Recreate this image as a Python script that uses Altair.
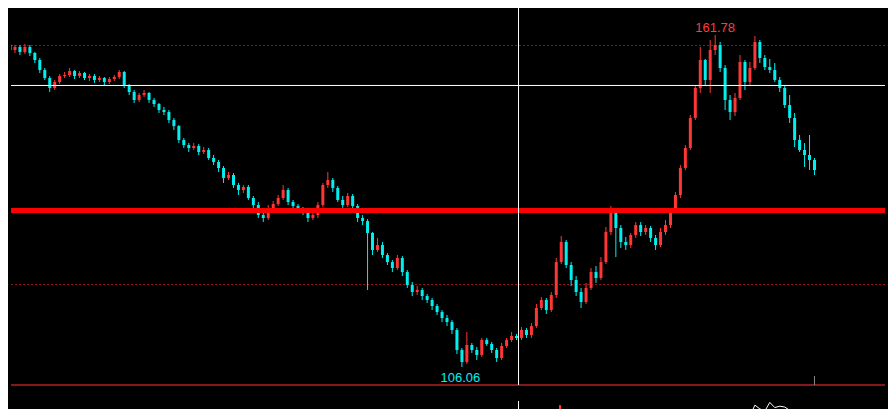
import altair as alt
import pandas as pd

# ---- price data (OHLC) ----
closes = [
    160.10, 159.26, 159.77, 158.92, 159.77, 158.76, 157.58, 155.90, 154.57, 152.89,
    153.89, 154.90, 155.07, 155.73, 154.90, 155.40, 154.57, 154.90, 154.23, 154.57,
    153.89, 154.40, 154.73, 155.57, 153.22, 152.21, 150.87, 151.71, 152.05, 150.87,
    150.20, 149.19, 148.85, 147.51, 146.50, 144.16, 143.32, 142.82, 143.15, 142.14,
    142.48, 141.14, 140.46, 139.46, 137.79, 138.29, 136.61, 135.77, 136.28, 134.43,
    133.25, 131.57, 131.07, 132.75, 133.42, 134.43, 135.77, 133.75, 133.08, 132.41,
    132.07, 131.07, 131.57, 133.25, 136.61, 137.45, 136.11, 134.09, 133.25, 134.76,
    133.08, 131.07, 130.56, 128.56, 125.70, 126.54, 124.86, 123.68, 122.68, 124.36,
    122.00, 119.83, 118.65, 118.99, 117.98, 117.31, 116.30, 115.29, 114.29, 113.61,
    112.28, 108.92, 106.90, 109.76, 108.92, 108.08, 110.60, 109.93, 108.92, 107.58,
    109.59, 110.60, 111.27, 110.94, 112.28, 111.44, 112.94, 115.97, 117.31, 115.63,
    118.15, 123.68, 127.04, 123.18, 120.67, 118.65, 116.97, 119.33, 122.00, 121.00,
    123.68, 128.72, 132.07, 129.39, 127.04, 126.54, 128.22, 129.89, 128.72, 129.39,
    127.72, 126.54, 128.72, 129.89, 132.41, 134.93, 139.46, 142.82, 147.85, 152.89,
    157.58, 154.23, 159.26, 160.10, 156.24, 150.87, 148.85, 151.21, 157.25, 153.89,
    156.24, 160.60, 157.92, 156.41, 155.90, 154.23, 152.89, 150.03, 147.85, 144.16,
    142.48, 141.64, 140.80, 139.12,
]
highs = [
    161.28, 160.44, 160.10, 160.10, 160.27, 160.10, 158.92, 157.92, 156.24, 154.90,
    154.23, 155.23, 155.57, 156.24, 155.90, 155.73, 155.57, 155.23, 155.23, 154.90,
    154.73, 154.73, 155.07, 155.90, 155.73, 153.56, 152.55, 152.05, 152.55, 152.21,
    151.21, 150.37, 149.70, 149.19, 147.85, 146.67, 144.50, 143.66, 143.66, 143.49,
    142.99, 142.82, 141.64, 140.80, 139.79, 138.78, 138.62, 136.95, 136.61, 136.61,
    134.76, 133.75, 132.07, 133.25, 133.92, 134.93, 136.61, 136.11, 134.09, 133.42,
    132.92, 132.41, 131.91, 133.75, 136.95, 138.78, 137.79, 136.44, 134.76, 135.27,
    135.10, 133.42, 131.57, 130.90, 128.72, 127.72, 127.04, 125.19, 124.02, 124.86,
    124.69, 122.34, 120.33, 119.66, 119.33, 118.32, 117.65, 116.64, 115.63, 114.79,
    113.95, 112.62, 109.26, 111.94, 110.10, 109.43, 110.94, 110.94, 110.27, 109.26,
    110.10, 110.94, 111.94, 111.61, 112.78, 112.62, 113.45, 116.64, 117.82, 117.65,
    118.65, 124.36, 128.05, 127.38, 123.68, 121.33, 119.33, 120.17, 122.68, 123.01,
    124.52, 129.56, 133.08, 132.41, 129.89, 127.88, 128.56, 130.39, 130.39, 129.89,
    129.73, 128.22, 129.39, 130.73, 132.75, 135.43, 139.96, 143.32, 148.35, 153.39,
    159.77, 157.75, 160.94, 161.78, 160.60, 156.74, 151.71, 152.05, 158.42, 157.58,
    157.25, 161.61, 160.94, 158.42, 157.75, 157.08, 154.73, 153.39, 151.71, 148.69,
    145.00, 143.66, 145.00, 141.14,
]
lows = [
    159.26, 158.59, 158.76, 158.42, 158.59, 158.25, 157.08, 155.40, 154.23, 152.21,
    152.55, 153.56, 154.57, 154.73, 154.40, 154.57, 154.23, 154.06, 153.73, 153.89,
    153.39, 153.56, 154.06, 154.40, 152.89, 151.71, 150.37, 150.53, 151.37, 150.37,
    149.70, 148.69, 148.35, 147.01, 145.84, 143.66, 142.82, 142.14, 142.48, 141.64,
    141.81, 140.80, 139.96, 138.78, 136.95, 137.45, 136.11, 134.93, 135.27, 134.09,
    132.75, 131.07, 130.39, 130.73, 132.41, 133.08, 134.09, 133.25, 132.75, 131.91,
    131.57, 130.39, 130.73, 131.07, 132.92, 136.11, 135.43, 133.75, 132.75, 132.92,
    132.41, 130.39, 129.89, 118.99, 124.86, 125.36, 124.36, 123.18, 122.00, 122.34,
    121.33, 119.33, 117.98, 118.15, 117.31, 116.81, 115.63, 114.79, 113.61, 112.94,
    111.61, 108.25, 106.06, 106.57, 108.42, 107.24, 107.75, 109.59, 108.42, 106.90,
    107.24, 109.26, 110.27, 110.60, 110.60, 110.94, 110.94, 112.62, 115.63, 114.96,
    115.29, 117.65, 123.35, 122.68, 119.66, 117.98, 115.97, 116.64, 118.99, 120.17,
    120.67, 123.35, 128.22, 124.52, 126.04, 125.70, 126.04, 127.72, 128.05, 128.22,
    127.04, 125.70, 126.20, 128.22, 129.39, 132.07, 134.43, 139.12, 142.48, 147.51,
    152.05, 153.39, 152.05, 158.42, 155.57, 149.19, 147.51, 148.18, 150.87, 152.55,
    153.39, 155.90, 157.08, 155.90, 155.40, 153.89, 152.21, 149.53, 147.01, 142.99,
    142.14, 139.63, 139.12, 138.29,
]
first_open = 160.94
opens = [first_open] + closes[:-1]

# ---- reference lines ----
dotted_levels = [160.02, 119.91]
cross_level = 153.31
red_level = 132.33
separator_level = 103.05
cross_bar = 103.4
lower_cross = [100.37, 95.0]
last_tick = [103.05, 104.56]

# ---- lower indicator panel ----
ind_start = 130
indicator = [-5, -2, 2, 7, 5, 12, 16, 22, 8, -3, -8, -10, -12, -10, -8, -12, -10,
             -8, -5, -2, 3, 44, 30, 22, 54, 35, 40, 37, 25, 14, 4, 2, 4, 3]
vol_bar_pos = 111.75
vol_bar_val = 44

RED = "#ff3636"
CYAN = "#00f0f0"

n = len(closes)
df = pd.DataFrame({"i": list(range(n)), "open": opens, "high": highs,
                   "low": lows, "close": closes})
df["dir"] = ["up" if c >= o else "down" for o, c in zip(opens, closes)]

xs = alt.Scale(domain=[1.2, 177.2], nice=False, zero=False)
ys = alt.Scale(domain=[99.02, 166.31], nice=False, zero=False)
ind_scale = alt.Scale(domain=[0, 100], range=[409, 382], nice=False, zero=False)
col = alt.Color("dir:N", scale=alt.Scale(domain=["up", "down"], range=[RED, CYAN]), legend=None)

X = alt.X("i:Q", scale=xs, axis=None)

base = alt.Chart(df)
wick = base.mark_rule(strokeWidth=1, clip=True).encode(
    x=X, y=alt.Y("low:Q", scale=ys, axis=None), y2="high:Q", color=col)
body = base.mark_rule(strokeWidth=3, clip=True).encode(
    x=X, y=alt.Y("open:Q", scale=ys, axis=None), y2="close:Q", color=col)

dotted = alt.Chart(pd.DataFrame({"p": dotted_levels})).mark_rule(
    color="#a01414", strokeDash=[2, 2], strokeWidth=1).encode(
    y=alt.Y("p:Q", scale=ys, axis=None))
thick = alt.Chart(pd.DataFrame({"p": [red_level]})).mark_rule(
    color="#ff0000", strokeWidth=5).encode(y=alt.Y("p:Q", scale=ys, axis=None))
hcross = alt.Chart(pd.DataFrame({"p": [cross_level]})).mark_rule(
    color="#ffffff", strokeWidth=1).encode(y=alt.Y("p:Q", scale=ys, axis=None))
sep = alt.Chart(pd.DataFrame({"p": [separator_level]})).mark_rule(
    color="#b42020", strokeWidth=1.5).encode(y=alt.Y("p:Q", scale=ys, axis=None))

vcross = alt.Chart(pd.DataFrame({
    "i": [cross_bar, cross_bar],
    "a": [separator_level, lower_cross[0]],
    "b": [170.0, lower_cross[1]],
})).mark_rule(color="#ffffff", strokeWidth=1, clip=True).encode(
    x=X, y=alt.Y("a:Q", scale=ys, axis=None), y2="b:Q")

tick = alt.Chart(pd.DataFrame({"i": [n - 1], "a": [last_tick[0]], "b": [last_tick[1]]})).mark_rule(
    color="#8a8a8a", strokeWidth=1).encode(
    x=X, y=alt.Y("a:Q", scale=ys, axis=None), y2="b:Q")

ind = alt.Chart(pd.DataFrame({"i": list(range(ind_start, ind_start + len(indicator))),
                              "v": indicator})).mark_line(
    color="#ffffff", strokeWidth=1, clip=True).encode(
    x=X, y=alt.Y("v:Q", scale=ind_scale, axis=None))
vol = alt.Chart(pd.DataFrame({"i": [vol_bar_pos], "v": [vol_bar_val], "z": [0]})).mark_rule(
    color=RED, strokeWidth=2, clip=True).encode(
    x=X, y=alt.Y("v:Q", scale=ind_scale, axis=None), y2="z:Q")

imax = highs.index(max(highs))
imin = lows.index(min(lows))
top_lbl = alt.Chart(pd.DataFrame({"i": [imax], "p": [highs[imax]],
                                  "t": [f"{highs[imax]:.2f}"]})).mark_text(
    color="#ff3c3c", font="Arial", fontSize=13, baseline="alphabetic", dy=-3.3).encode(
    x=X, y=alt.Y("p:Q", scale=ys, axis=None), text="t:N")
bot_lbl = alt.Chart(pd.DataFrame({"i": [imin], "p": [lows[imin]],
                                  "t": [f"{lows[imin]:.2f}"]})).mark_text(
    color=CYAN, font="Arial", fontSize=13, baseline="alphabetic", dy=14.7, dx=-1.5).encode(
    x=X, y=alt.Y("p:Q", scale=ys, axis=None), text="t:N")

chart = alt.layer(
    dotted, wick, body, thick, hcross, sep, vcross, tick, ind, vol, top_lbl, bot_lbl
).resolve_scale(y="independent").properties(
    width=880, height=401, background="#000000", padding=0,
    autosize=alt.AutoSizeParams(type="fit", contains="padding"),
).configure_view(stroke=None)

chart.save("out.html", embed_options={"renderer": "svg", "actions": False})
